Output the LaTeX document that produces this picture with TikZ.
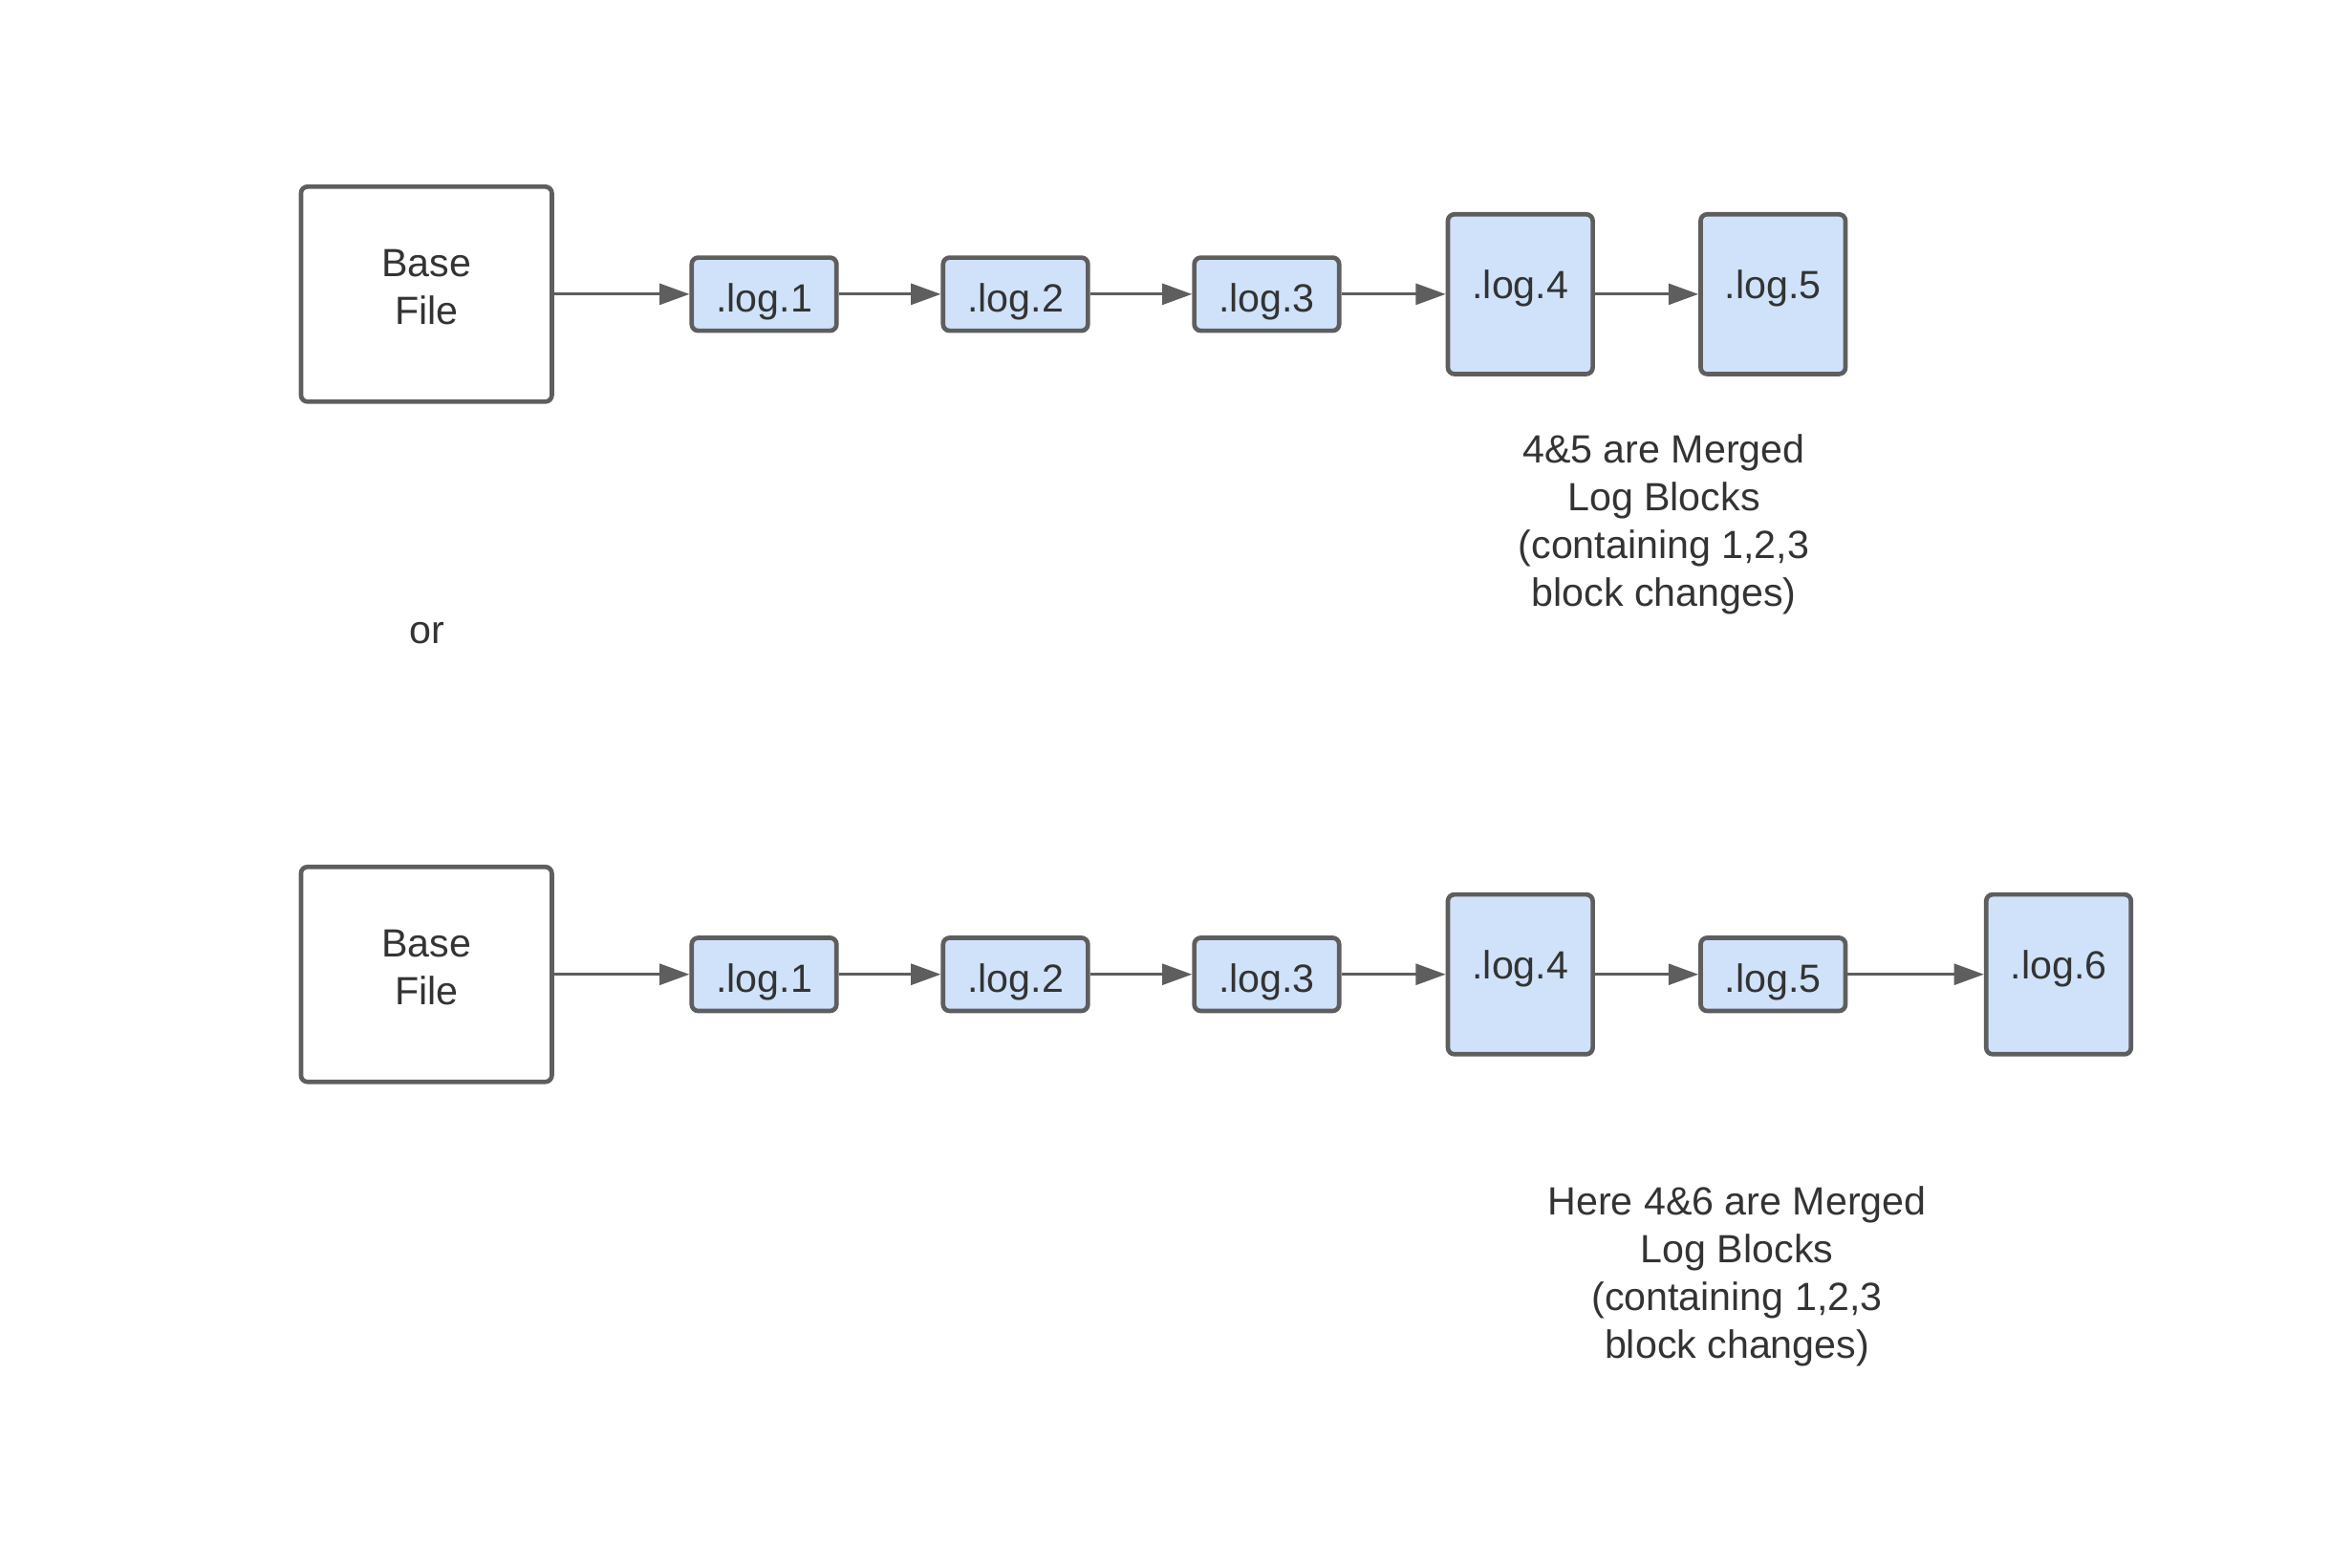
\documentclass[tikz,border=0pt]{standalone}
\usepackage{fontspec}
\setmainfont{Liberation Sans}
\usetikzlibrary{arrows.meta,positioning}
\definecolor{boxline}{RGB}{94,94,94}
\definecolor{logfill}{RGB}{207,226,250}
\definecolor{textgray}{RGB}{51,51,51}

\begin{document}
\begin{tikzpicture}[x=0.02cm,y=-0.02cm,
    font=\fontsize{15}{18.2}\selectfont, text=textgray,
    basebox/.style={draw=boxline, line width=1.7pt, rounded corners=2.5pt,
      minimum width=3.36cm, minimum height=2.88cm, align=center, inner sep=0pt,
      text depth=0.2cm},
    logbox/.style={basebox, fill=logfill, minimum width=1.94cm, minimum height=0.98cm,
      text height=0.58cm, text depth=0.11cm},
    bigbox/.style={logbox, minimum height=2.14cm, text height=0.38cm, text depth=0.27cm},
    link/.style={draw=boxline, line width=1.1pt,
      -{Triangle[length=0.4cm,width=0.28cm]}}]
  \useasboundingbox (0,0) rectangle (1560,1050);
  % first chain: 4 and 5 merged
  \node[basebox] (base1) at (285.5,197) {Base\\File};
  \foreach \x/\n in {511.6/1,679.9/2,848.1/3}     % small log blocks
    \node[logbox] (top\n) at (\x,197) {.log.\n};
  \node[bigbox] (top4) at (1017.9,197) {.log.4};
  \node[bigbox] (top5) at (1187.1,197) {.log.5};
  \draw[link] (base1) -- (top1);
  \foreach \a/\b in {1/2,2/3,3/4,4/5}
    \draw[link] (top\a) -- (top\b);
  \node[align=center] (note1) at (1114,351)
    {4\&5 are Merged\\Log Blocks\\(containing 1,2,3\\block changes)};
  \node (or) at (286,424) {or};
  % second chain: 4 and 6 merged
  \node[basebox] (base2) at (285.5,652.5) {Base\\File};
  \foreach \x/\n in {511.6/1,679.9/2,848.1/3,1187.1/5}  % small log blocks
    \node[logbox] (bot\n) at (\x,652.5) {.log.\n};
  \node[bigbox] (bot4) at (1017.9,652.5) {.log.4};
  \node[bigbox] (bot6) at (1378.3,652.5) {.log.6};
  \draw[link] (base2) -- (bot1);
  \foreach \a/\b in {1/2,2/3,3/4,4/5,5/6}
    \draw[link] (bot\a) -- (bot\b);
  \node[align=center] (note2) at (1163,855)
    {Here 4\&6 are Merged\\Log Blocks\\(containing 1,2,3\\block changes)};
\end{tikzpicture}
\end{document}
